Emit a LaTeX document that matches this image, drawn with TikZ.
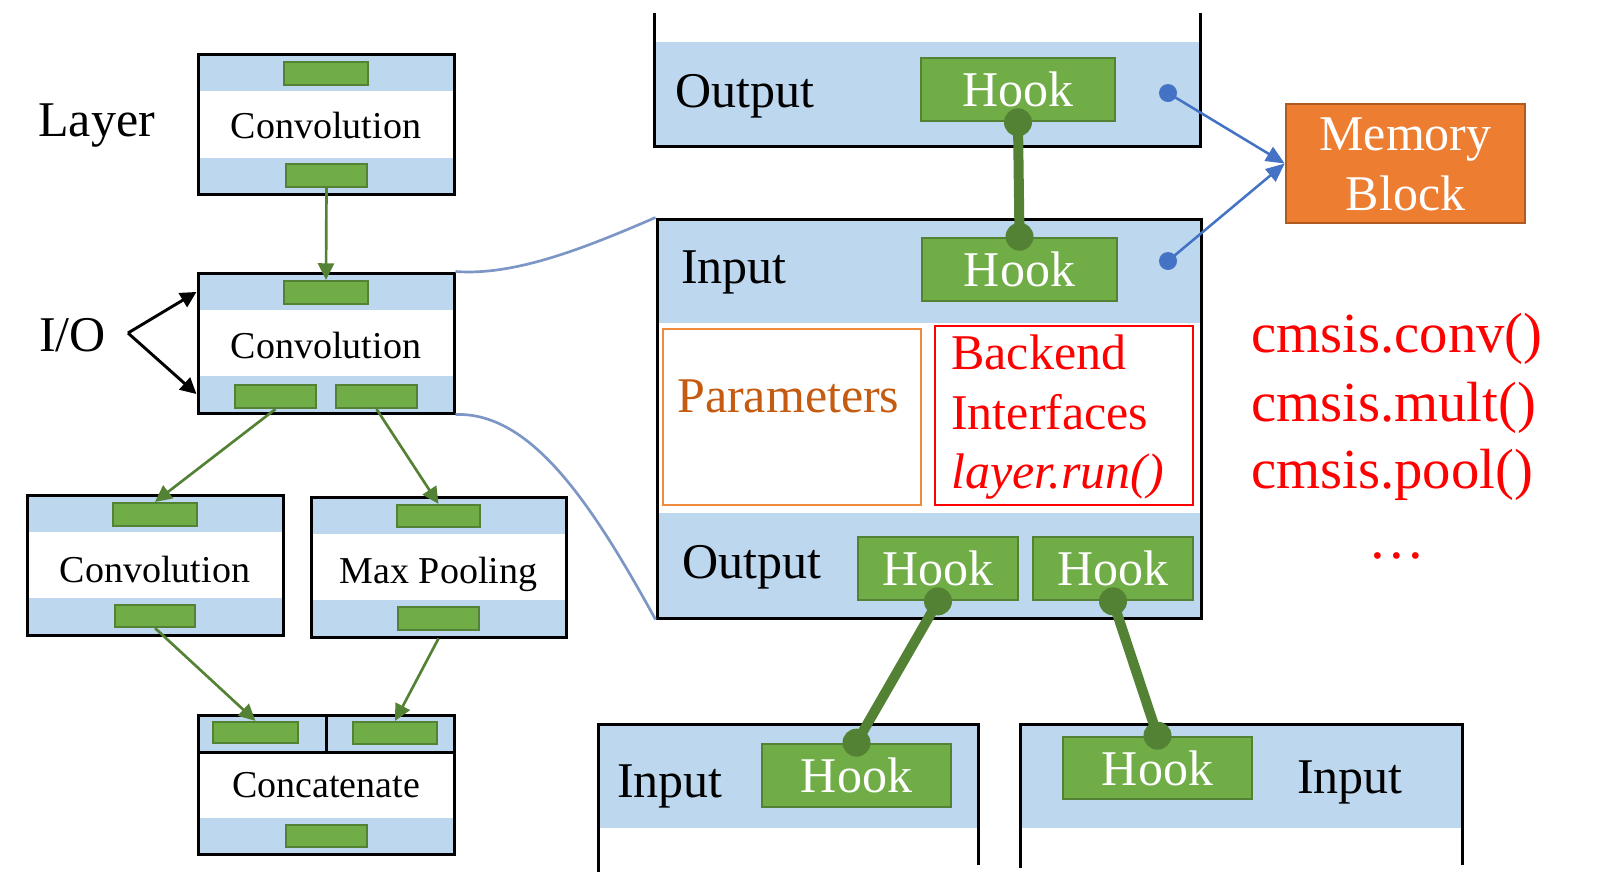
\documentclass[tikz,border=0pt]{standalone}
\usepackage{fontspec}
\setmainfont{Liberation Serif}
\usetikzlibrary{arrows.meta,fit,calc}
\definecolor{bandblue}{HTML}{BDD7EE}
\definecolor{gfill}{HTML}{70AD47}
\definecolor{gdark}{HTML}{548235}
\definecolor{memorange}{HTML}{ED7D31}
\definecolor{memborder}{HTML}{AE5A21}
\definecolor{paramtext}{HTML}{C55A11}
\definecolor{paramframe}{HTML}{F08A3C}
\definecolor{memblue}{HTML}{4472C4}
\definecolor{curvecol}{HTML}{7C96C6}
\newcommand{\bigf}{\fontsize{37.5}{45}\selectfont}
\newcommand{\midf}{\fontsize{28.5}{34}\selectfont}
\newcommand{\hugef}{\fontsize{42.5}{51}\selectfont}
\begin{document}
\begin{tikzpicture}[x=0.75pt,y=-0.75pt,
  band/.style={fill=bandblue},
  layerbox/.style={draw=black, line width=2.25pt, inner sep=0pt},
  frame/.style={draw=black, line width=2.25pt},
  port/.style={draw=gdark, fill=gfill, line width=1.6pt, inner sep=0pt},
  hook/.style={draw=gdark, fill=gfill, line width=2pt, inner sep=0pt,
               text=white, font=\bigf, minimum height=47.25pt},
  lbl/.style={inner sep=0pt, font=\midf},
  biglbl/.style={inner sep=0pt, font=\bigf},
  garrow/.style={draw=gdark, line width=2pt, -{Triangle[length=12.5pt,width=12pt]}},
  ioarrow/.style={draw=black, line width=2.2pt, -{Triangle[length=12pt,width=12pt]}},
  memarrow/.style={draw=memblue, line width=1.9pt, -{Triangle[length=14pt,width=12pt]}},
  link/.style={draw=gdark, line width=7.5pt},
  curve/.style={draw=curvecol, line width=2pt},
  codetext/.style={inner sep=0pt, font=\hugef, text=red}
]
\useasboundingbox (0,0) rectangle (1622,875);

% ---------- left column: layers ----------
\node[biglbl, anchor=base west] (layerlbl) at (38,136) {Layer};
\node[biglbl, anchor=base west] (iolbl) at (39,351) {I/O};

% top convolution
\fill[band] (198,54) rectangle (454,91);
\fill[band] (198,158) rectangle (454,194);
\node[layerbox, fit={(198,54)(454,194)}] (conv1) {};
\node[lbl, anchor=base] (conv1t) at (326,138) {Convolution};
\node[port, fit={(284,62)(368,85)}] (conv1in) {};
\node[port, fit={(286,164)(367,187)}] (conv1out) {};

% second convolution
\fill[band] (198,273) rectangle (454,310);
\fill[band] (198,376) rectangle (454,413);
\node[layerbox, fit={(198,273)(454,413)}] (conv2) {};
\node[lbl, anchor=base] (conv2t) at (326,358) {Convolution};
\node[port, fit={(284,281)(368,304)}] (conv2in) {};
\node[port, fit={(235,385)(316,408)}] (conv2outl) {};
\node[port, fit={(336,385)(417,408)}] (conv2outr) {};

% left convolution
\fill[band] (27,495) rectangle (283,532);
\fill[band] (27,598) rectangle (283,635);
\node[layerbox, fit={(27,495)(283,635)}] (conv3) {};
\node[lbl, anchor=base] (conv3t) at (155,582) {Convolution};
\node[port, fit={(113,503)(197,526)}] (conv3in) {};
\node[port, fit={(115,605)(195,627)}] (conv3out) {};

% max pooling
\fill[band] (311,497) rectangle (566,534);
\fill[band] (311,600) rectangle (566,637);
\node[layerbox, fit={(311,497)(566,637)}] (pool) {};
\node[lbl, anchor=base] (poolt) at (438.5,583) {Max Pooling};
\node[port, fit={(397,505)(480,527)}] (poolin) {};
\node[port, fit={(398,607)(479,630)}] (poolout) {};

% concatenate
\fill[band] (198,715) rectangle (454,752);
\fill[band] (198,818) rectangle (454,854);
\node[layerbox, fit={(198,715)(454,854)}] (cat) {};
\draw[frame] (198,752) -- (454,752);
\draw[frame] (326,715) -- (326,752);
\node[lbl, anchor=base] (catt) at (326,797) {Concatenate};
\node[port, fit={(213,722)(298,743)}] (catinl) {};
\node[port, fit={(353,722)(437,744)}] (catinr) {};
\node[port, fit={(286,825)(367,847)}] (catout) {};

% green arrows
\draw[garrow] (conv1out.south) -- (conv2in.north);
\draw[garrow] (conv2outl.south) -- (conv3in.north);
\draw[garrow] (conv2outr.south) -- (poolin.north);
\draw[garrow] (conv3out.south) -- (catinl.north);
\draw[garrow] (pool.south) -- (catinr.north);

% I/O arrows
\coordinate (iov) at (128,333);
\draw[ioarrow] (iov) -- ($(conv2.north west)!0.143!(conv2.south west)$);
\draw[ioarrow] (iov) -- ($(conv2.north west)!0.857!(conv2.south west)$);

% ---------- right part ----------
% top output (previous layer)
\fill[band] (654,42) rectangle (1200,146);
\draw[frame] (654,13) -- (654,146) -- (1200,146) -- (1200,13);
\node[biglbl, anchor=base west] (prevout) at (675,107) {Output};
\node[hook, minimum width=145.5pt] (hooktop) at (1018,89.5) {Hook};

% big layer box
\fill[band] (657,219) rectangle (1201,323);
\fill[band] (657,513) rectangle (1201,618);
\node[layerbox, fit={(657,219)(1201,618)}] (big) {};
\node[biglbl, anchor=base west] (bigin) at (681,283) {Input};
\node[hook, minimum width=146.25pt] (hookin) at (1019.5,269.5) {Hook};
\node[draw=paramframe, line width=2pt, inner sep=0pt, fit={(663,329)(921,505)}] (params) {};
\node[biglbl, anchor=base west, text=paramtext] (paramst) at (677,412) {Parameters};
\node[draw=red, line width=2.2pt, inner sep=0pt, fit={(935,326)(1193,505)}] (backend) {};
\node[biglbl, anchor=base west, text=red] (be1) at (951,369) {Backend};
\node[biglbl, anchor=base west, text=red] (be2) at (951,429) {Interfaces};
\node[biglbl, anchor=base west, text=red] (be3) at (951,488) {\itshape layer.run()};
\node[biglbl, anchor=base west] (bigout) at (682,578) {Output};
\node[hook, minimum width=120pt] (hookout1) at (938,568.5) {Hook};
\node[hook, minimum width=120pt] (hookout2) at (1113,568.5) {Hook};

% bottom input boxes (next layers)
\fill[band] (598,724) rectangle (978,828);
\draw[frame] (598,872) -- (598,724) -- (978,724) -- (978,865);
\node[biglbl, anchor=base west] (nextin1) at (617,797) {Input};
\node[hook, minimum width=141.75pt] (hooknext1) at (856.5,775.5) {Hook};

\fill[band] (1020,724) rectangle (1462,828);
\draw[frame] (1020,868) -- (1020,724) -- (1462,724) -- (1462,865);
\node[biglbl, anchor=base west] (nextin2) at (1297,793) {Input};
\node[hook, minimum width=141.75pt, minimum height=46.5pt] (hooknext2) at (1157.5,768) {Hook};

% hook links
\draw[link] (hooktop.south) -- (hookin.north);
\fill[gdark] (hooktop.south) circle[radius=10.5pt];
\fill[gdark] (hookin.north) circle[radius=10.5pt];
\draw[link] (hookout1.south) -- (hooknext1.north);
\fill[gdark] (hookout1.south) circle[radius=10.5pt];
\fill[gdark] (hooknext1.north) circle[radius=10.5pt];
\draw[link] (hookout2.south) -- (hooknext2.north);
\fill[gdark] (hookout2.south) circle[radius=10.5pt];
\fill[gdark] (hooknext2.north) circle[radius=10.5pt];

% memory block
\node[draw=memborder, fill=memorange, line width=2pt, inner sep=0pt,
      fit={(1286,104)(1525,223)}] (mem) {};
\node[biglbl, text=white, align=center, font=\fontsize{37.5}{45}\selectfont] (memt) at (1405.5,164) {Memory\\Block};
\coordinate (memdot1) at (1168,93);
\coordinate (memdot2) at (1168,261);
\fill[memblue] (memdot1) circle[radius=6.75pt];
\fill[memblue] (memdot2) circle[radius=6.75pt];
\draw[memarrow] (memdot1) -- (mem.west);
\draw[memarrow] (memdot2) -- (mem.west);

% curves zooming into the layer
\draw[curve] (conv2.north east) .. controls (515,276) and (585,248) .. (big.north west);
\draw[curve] (conv2.south east) .. controls (530,412) and (590,500) .. (big.south west);

% backend functions
\node[codetext, anchor=base west] (cm1) at (1251,352) {cmsis.conv()};
\node[codetext, anchor=base west] (cm2) at (1251,421) {cmsis.mult()};
\node[codetext, anchor=base west] (cm3) at (1251,488) {cmsis.pool()};
\node[codetext, anchor=base] (cm4) at (1397,558) {…};
\end{tikzpicture}
\end{document}
